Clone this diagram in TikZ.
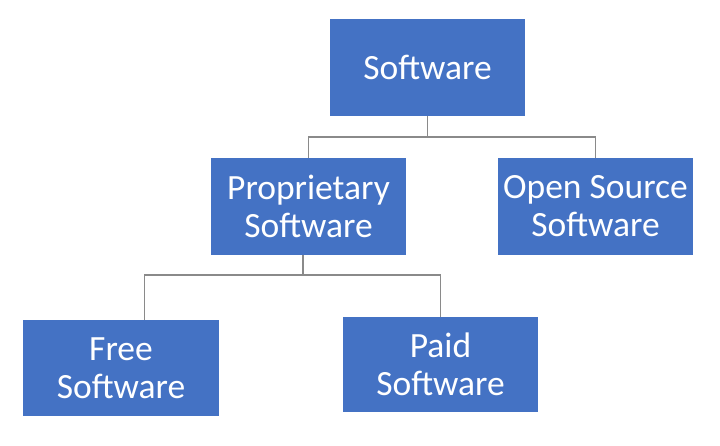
\documentclass[tikz,border=0pt]{standalone}
\usepackage{fontspec}
\setmainfont{Carlito}
\definecolor{boxblue}{HTML}{4472C4}
\definecolor{linegray}{HTML}{8A8A8A}
\begin{document}
\begin{tikzpicture}[x=1pt,y=-1pt,
  box/.style={draw=none,fill=boxblue,text=white,minimum width=195pt,minimum height=97pt,
    align=center,inner sep=0pt,font=\fontsize{35.5}{38}\selectfont},
  conn/.style={draw=linegray,line width=1.4pt}]
\useasboundingbox (0,0) rectangle (720,445);
\node[box] (sw) at (427.5,67.5) {Software};
\node[box] (prop) at (308.5,206.5) {Proprietary\\Software};
\node[box] (open) at (595.5,206.5) {Open Source\\Software};
\node[box,minimum width=196pt,minimum height=96pt] (free) at (121,368) {Free\\Software};
\node[box,minimum height=95pt] (paid) at (440.5,364.5) {Paid\\Software};
\coordinate (j1) at (427.5,137);
\coordinate (j2) at (303,275);
\draw[conn] (sw.south) -- (j1);
\draw[conn] (j1) -| (prop.north);
\draw[conn] (j1) -| (open.north);
\draw[conn] ([xshift=-5.5pt]prop.south) -- (j2);
\draw[conn] (j2) -| ([xshift=23.5pt]free.north);
\draw[conn] (j2) -| (paid.north);
\end{tikzpicture}
\end{document}
